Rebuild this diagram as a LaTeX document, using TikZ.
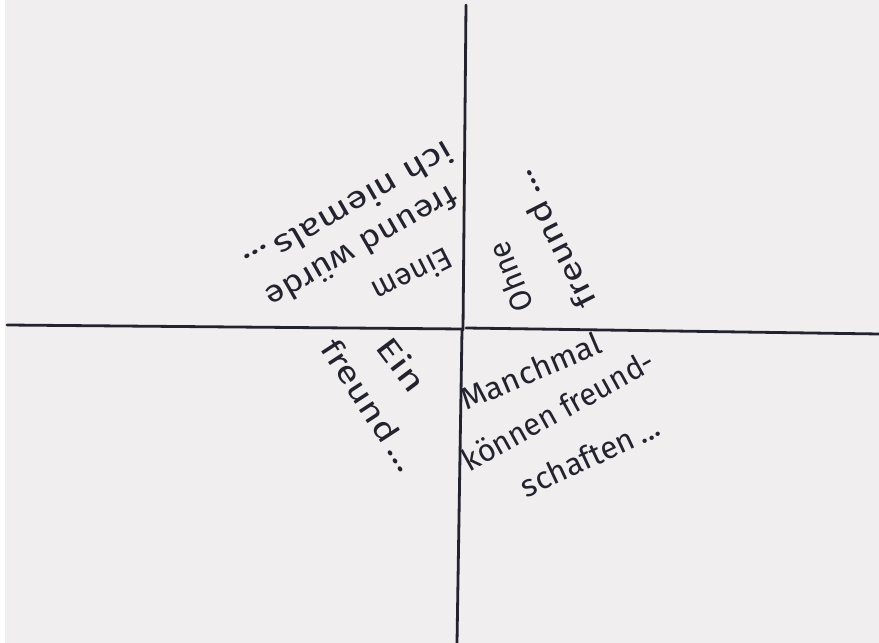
\documentclass[tikz,border=0pt]{standalone}
\usepackage{fontspec}
\setmainfont{Fira Sans}
\definecolor{paper}{HTML}{F0EEEE}
\definecolor{ink}{HTML}{23232F}
\tikzset{
  x=1pt,y=1pt,
  divider/.style={draw=ink,line width=2.8pt,line cap=round},
  hand/.style={text=ink,inner sep=0pt,anchor=center,font=\fontsize{31}{35}\selectfont}
}
\newcommand{\hw}[2]{\resizebox{#1pt}{\height}{#2}}
\begin{document}
\begin{tikzpicture}
\useasboundingbox (0,0) rectangle (879,643);
\fill[paper] (0,0) rectangle (879,643);
\fill[white] (0,0) rectangle (5,643);
% dividing lines
\coordinate (hl1) at (7,318);
\coordinate (hm1) at (462,314);
\coordinate (hm2) at (466,315);
\coordinate (hr) at (879,309);
\coordinate (vt) at (466,638);
\coordinate (vm1) at (463,313);
\coordinate (vm2) at (462,313);
\coordinate (vb) at (457,0);
\draw[divider] (hl1) -- (hm1);
\draw[divider] (hm2) -- (hr);
\draw[divider] (vt) -- (vm1);
\draw[divider] (vm2) -- (vb);
% top-left quadrant
\node[hand,rotate=207] (einem) at (413,367) {\hw{85}{Einem}};
\node[hand,rotate=210] (wuerde) at (362,395) {\hw{215}{freund würde}};
\node[hand,rotate=210] (niemals) at (350,434) {\hw{235}{ich niemals\,...}};
% top-right quadrant
\node[hand,rotate=112] (ohne) at (510,366) {\hw{72}{Ohne}};
\node[hand,rotate=117] (freundtr) at (553,403) {\hw{150}{freund\,...}};
% bottom-left quadrant
\node[hand,rotate=-53] (ein) at (402,279) {\hw{60}{Ein}};
\node[hand,rotate=-57] (freundbl) at (370,238) {\hw{150}{freund\,...}};
% bottom-right quadrant
\node[hand,rotate=23] (manchmal) at (531,272) {\hw{150}{Manchmal}};
\node[hand,rotate=29] (koennen) at (558,233) {\hw{215}{können freund-}};
\node[hand,rotate=25] (schaften) at (590,187) {\hw{150}{schaften\,...}};
\end{tikzpicture}
\end{document}
